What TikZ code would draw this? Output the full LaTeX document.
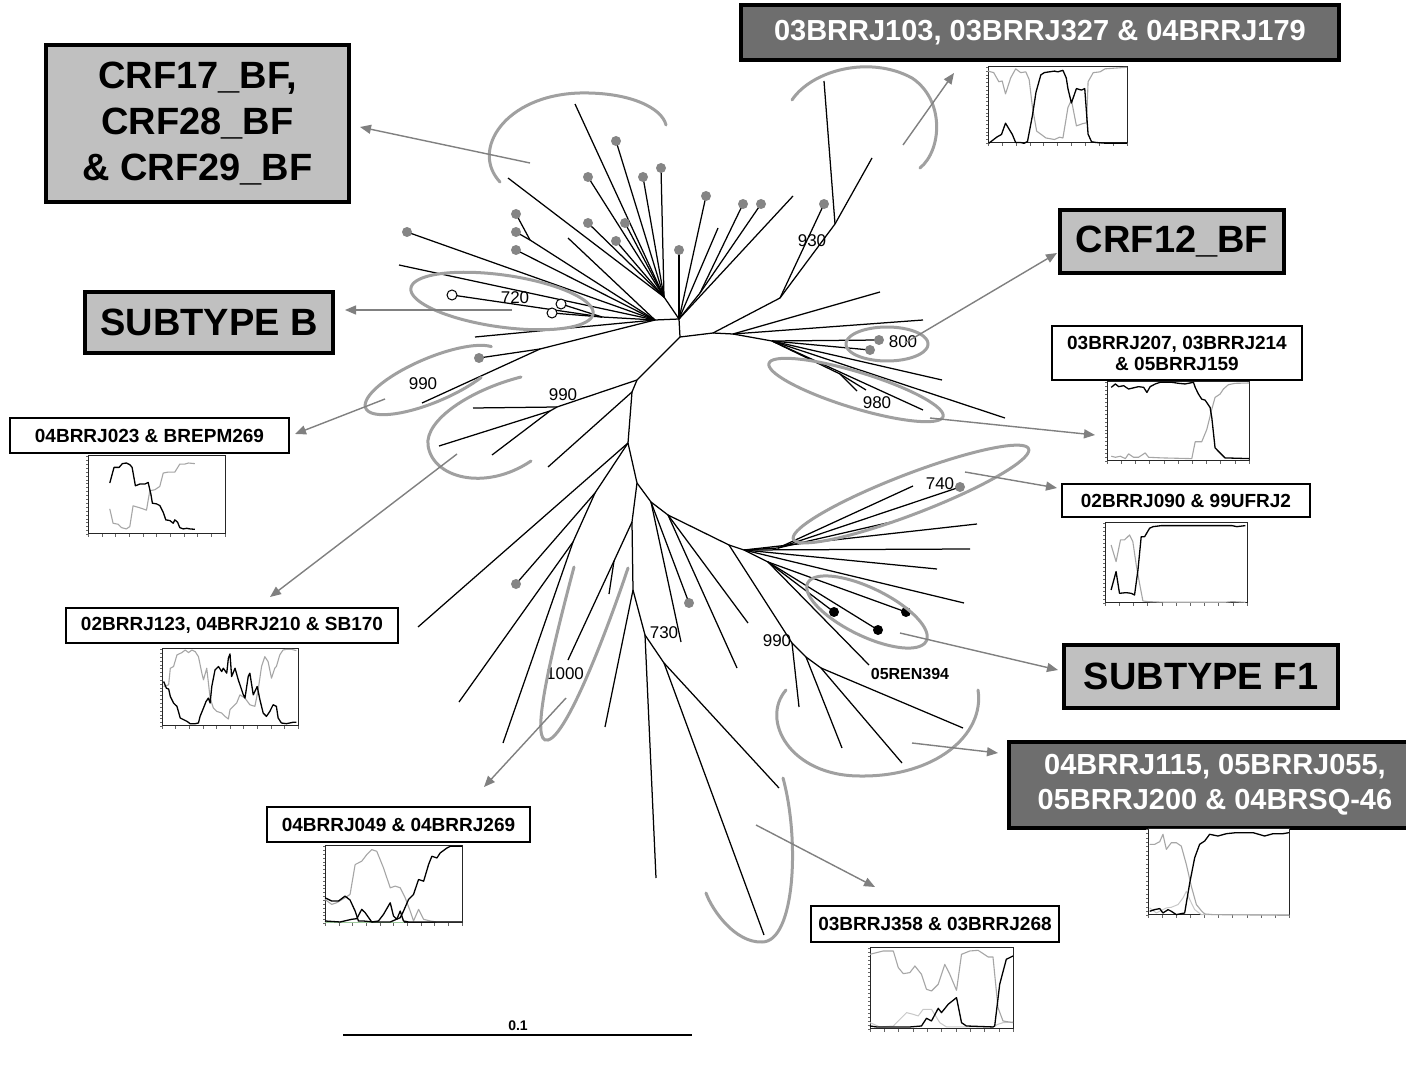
\documentclass[tikz,border=0pt]{standalone}
\usepackage{fontspec}
\setmainfont{Liberation Sans}
\usetikzlibrary{arrows.meta}

\definecolor{cladegray}{HTML}{A0A0A0}
\definecolor{arrowgray}{HTML}{808080}
\definecolor{dotgray}{HTML}{858585}
\definecolor{boxlight}{HTML}{C0C0C0}
\definecolor{boxdark}{HTML}{6E6E6E}
\definecolor{tracegray}{HTML}{A6A6A6}
\definecolor{tracelight}{HTML}{C8C8C8}
\definecolor{tracegreen}{HTML}{9CC89C}

\tikzset{
  branch/.style={line width=1.25pt, black},
  clade/.style={line width=3pt, cladegray, line cap=round},
  pointer/.style={line width=1.4pt, arrowgray, -{Triangle[length=11pt,width=9pt]}},
  graydot/.style={circle, fill=dotgray, inner sep=0pt, minimum size=10pt},
  opendot/.style={circle, draw=black, fill=white, line width=1pt, inner sep=0pt, minimum size=10pt},
  blackdot/.style={circle, fill=black, inner sep=0pt, minimum size=10pt},
  bigbox/.style={draw=black, line width=4pt, fill=boxlight, inner sep=0pt, align=center,
    font=\fontsize{38}{46}\selectfont\bfseries},
  darkbox/.style={draw=black, line width=4pt, fill=boxdark, text=white, inner sep=0pt, align=center,
    font=\fontsize{29}{35}\selectfont\bfseries},
  smallbox/.style={draw=black, line width=1.3pt, fill=white, inner sep=0pt, align=center,
    font=\fontsize{19}{21}\selectfont\bfseries},
  support/.style={inner sep=1pt, font=\fontsize{17}{17}\selectfont},
  plotframe/.style={draw=black!85, line width=1.3pt, fill=white, inner sep=0pt, anchor=north west},
  bcurve/.style={line width=1.3pt, black, line join=round},
  gcurve/.style={line width=1.1pt, tracegray, line join=round},
  lcurve/.style={line width=1.0pt, tracelight, line join=round},
  tick/.style={line width=0.4pt, black!60},
}

% branch from a parent point to a new named point
\newcommand{\tb}[3]{\coordinate (#2) at (#3); \draw[branch] (#1) -- (#2);}
\newcommand{\gd}[1]{\node[graydot] (#1d) at (#1) {};}
\newcommand{\od}[1]{\node[opendot] (#1d) at (#1) {};}
\newcommand{\bd}[1]{\node[blackdot] (#1d) at (#1) {};}
% tilted elliptic arc: cx, cy, a, b, tilt, start, end
\newcommand{\ellarc}[7]{\draw[clade] plot[variable=\t, domain=#6:#7, samples=90, smooth]
  ({#1+#3*cos(\t)*cos(#5)-#4*sin(\t)*sin(#5)},{#2+#3*cos(\t)*sin(#5)+#4*sin(\t)*cos(#5)});}
% axis ticks of a small trace panel
\newcommand{\panelticks}{%
  \foreach \k in {0,10,...,100} \draw[tick] (\k,0) -- ++(0pt,-2.5pt);
  \foreach \k in {0,5,...,100} \draw[tick] (0,\k) -- ++(-2.5pt,0pt);}

\begin{document}
\begin{tikzpicture}[x=1pt,y=-1pt]
\useasboundingbox (0,0) rectangle (1406,1067);
\fill[white] (0,0) rectangle (1406,1067);

% ---------------- tree ----------------
\coordinate (T0) at (680,337);
\tb{T0}{T1}{679,319}
\tb{T1}{T2}{664,297}
\tb{T1}{T3}{700,293}
\tb{T1}{T4}{655,320}
\tb{T4}{C720}{602,317}
\tb{T4}{S1}{530,240}
\tb{T4}{S2}{540,349}
\tb{T2}{a1}{575,104}
\tb{T2}{a2}{616,141}
\tb{T2}{a3}{588,177}
\tb{T2}{a4}{643,177}
\tb{T2}{a5}{661,168}
\tb{T2}{a6}{588,223}
\tb{T2}{a7}{625,223}
\tb{T2}{a8}{616,241}
\tb{T2}{a9}{508,178}
\tb{T1}{b1}{679,250}
\tb{T1}{b2}{706,196}
\tb{T1}{b3}{718,228}
\tb{T1}{b4}{793,196}
\tb{T3}{c1}{743,204}
\tb{T3}{c2}{761,204}
\tb{T4}{d1}{568,238}
\tb{T4}{d2}{407,232}
\tb{T4}{d3}{516,250}
\tb{T4}{d4}{399,265}
\tb{T4}{d5}{475,337}
\tb{S1}{e1}{516,214}
\tb{S1}{e2}{516,232}
\tb{C720}{f1}{452,295}
\tb{C720}{f2}{561,304}
\tb{C720}{f3}{552,313}
\tb{S2}{g1}{479,358}
\tb{S2}{g2}{422,403}

\tb{T0}{R1}{713,333}
\tb{R1}{R2}{780,298}
\tb{R2}{N930}{835,224}
\tb{N930}{h1}{824,81}
\tb{N930}{h2}{872,158}
\tb{R2}{h3}{824,204}
\tb{R1}{R3}{733,334}
\tb{R3}{i1}{923,320}
\tb{R3}{i2}{880,292}
\tb{R3}{R4}{772,341}
\tb{R4}{j1}{879,340}
\tb{R4}{j2}{870,350}
\tb{R4}{j3}{942,380}
\tb{R4}{j4}{1005,418}
\tb{R4}{j5}{923,410}
\tb{R4}{N980}{840,374}
\tb{N980}{k1}{866,390}
\tb{N980}{k2}{857,391}

\tb{T0}{N3}{637,380}
\tb{N3}{N99a}{557,407}
\tb{N99a}{m1}{473,408}
\tb{N99a}{N99b}{550,411}
\tb{N99b}{m2}{439,446}
\tb{N99b}{m3}{492,455}
\tb{N3}{N4}{632,392}
\tb{N4}{n1}{548,467}
\tb{N4}{N5}{628,443}
\tb{N5}{n2}{418,627}
\tb{N5}{L1}{595,493}
\tb{L1}{o1}{516,584}
\tb{L1}{L2}{573,542}
\tb{L2}{o2}{459,702}
\tb{L2}{o3}{503,743}
\tb{N5}{N6}{637,483}
\tb{N6}{M1}{632,522}
\tb{M1}{M1b}{614,561}
\tb{M1b}{p1}{568,660}
\tb{M1b}{p2}{609,594}
\tb{M1}{M2}{633,590}
\tb{M2}{p3}{605,727}
\tb{M2}{N730}{645,635}
\tb{N730}{q1}{656,878}
\tb{N730}{M3}{664,663}
\tb{M3}{q2}{779,788}
\tb{M3}{q3}{764,935}
\tb{N6}{R5}{651,502}
\tb{R5}{r1}{681,642}
\tb{R5}{r2}{689,603}
\tb{R5}{R6}{668,515}
\tb{R6}{r3}{748,623}
\tb{R6}{r4}{737,668}
\tb{R6}{R7}{729,545}
\tb{R7}{N99c}{792,643}
\tb{N99c}{s1}{799,707}
\tb{N99c}{Q1}{806,657}
\tb{Q1}{s2}{842,748}
\tb{Q1}{Q2}{821,668}
\tb{Q2}{s3}{902,763}
\tb{Q2}{s4}{963,728}
\tb{R7}{R8}{744,550}
\tb{R8}{N740}{778,548}
\tb{N740}{t1}{913,486}
\tb{N740}{t2}{960,487}
\tb{N740}{t3}{900,520}
\tb{R8}{u1}{977,524}
\tb{R8}{u2}{970,549}
\tb{R8}{u3}{937,569}
\tb{R8}{u4}{964,603}
\tb{R8}{F1n}{768,562}
\tb{F1n}{v1}{834,612}
\tb{F1n}{v2}{878,630}
\tb{F1n}{v3}{906,612}
\tb{F1n}{v4}{869,665}

% leaf markers
\gd{a2}\gd{a3}\gd{a4}\gd{a5}\gd{a6}\gd{a7}\gd{a8}
\gd{b1}\gd{b2}\gd{c1}\gd{c2}\gd{d2}\gd{d3}\gd{e1}\gd{e2}
\gd{g1}\gd{h3}\gd{j1}\gd{j2}\gd{t2}\gd{o1}\gd{r2}
\od{f1}\od{f2}\od{f3}
\bd{v1}\bd{v2}\bd{v3}

% support values and leaf label
\node[support] (s720) at (515,298) {720};
\node[support] (s930) at (812,241) {930};
\node[support] (s800) at (903,342) {800};
\node[support] (s980) at (877,403) {980};
\node[support] (s740) at (940,484) {740};
\node[support] (s990a) at (423,384) {990};
\node[support] (s990b) at (563,395) {990};
\node[support] (s1000) at (565,674) {1000};
\node[support] (s730) at (664,633) {730};
\node[support] (s990c) at (777,641) {990};
\node[inner sep=1pt, font=\fontsize{16}{16}\selectfont\bfseries] (ren) at (910,674) {05REN394};

% ---------------- clade outlines ----------------
\draw[clade] (500,182) .. controls (470,150) and (505,95) .. (580,93) .. controls (630,92) and (662,108) .. (666,125);
\draw[clade] (792,100) .. controls (812,70) and (870,55) .. (912,78) .. controls (945,100) and (942,150) .. (920,168);
\ellarc{502}{301}{92}{26}{8}{0}{360}
\ellarc{887}{344}{41}{17}{0}{0}{360}
\ellarc{856}{390}{91}{18}{17}{0}{360}
\ellarc{911}{494}{126}{20}{-21}{0}{360}
\ellarc{432}{380}{72}{22}{-23}{50}{340}
\draw[clade] (521,377) .. controls (470,390) and (425,420) .. (428,445) .. controls (432,478) and (485,492) .. (531,461);
\ellarc{867}{612}{66}{24}{26}{0}{360}
\draw[clade] (574,567) .. controls (548,665) and (530,745) .. (548,740) .. controls (568,735) and (610,622) .. (628,568);
\draw[clade] (786,690) .. controls (760,720) and (790,776) .. (860,776) .. controls (935,777) and (985,735) .. (978,690);
\draw[clade] (783,778) .. controls (800,840) and (795,942) .. (762,942) .. controls (735,943) and (712,910) .. (706,893);

% ---------------- label boxes ----------------
\node[bigbox, minimum width=303pt, minimum height=157pt] (crfbox) at (197.5,123.5) {CRF17\_BF,\\CRF28\_BF\\\& CRF29\_BF};
\node[bigbox, minimum width=248pt, minimum height=61pt] (subB) at (209,322.5) {SUBTYPE B};
\node[bigbox, minimum width=224pt, minimum height=63pt] (crf12) at (1172,241.5) {CRF12\_BF};
\node[bigbox, minimum width=274pt, minimum height=63pt] (subF) at (1201,676.5) {SUBTYPE F1};
\node[darkbox, minimum width=598pt, minimum height=55pt] (topbox) at (1040,32.5) {03BRRJ103, 03BRRJ327 \& 04BRRJ179};
\node[darkbox, minimum width=412pt, minimum height=86pt] (botbox) at (1215,785) {04BRRJ115, 05BRRJ055,\\05BRRJ200 \& 04BRSQ-46};

\node[smallbox, minimum width=279pt, minimum height=35pt] (lb1) at (149.5,435.5) {04BRRJ023 \& BREPM269};
\node[smallbox, minimum width=250pt, minimum height=54pt] (lb2) at (1177,353) {03BRRJ207, 03BRRJ214\\\& 05BRRJ159};
\node[smallbox, minimum width=248pt, minimum height=33pt] (lb3) at (1186,500.5) {02BRRJ090 \& 99UFRJ2};
\node[smallbox, minimum width=332pt, minimum height=35pt] (lb4) at (232,625.5) {02BRRJ123, 04BRRJ210 \& SB170};
\node[smallbox, minimum width=263pt, minimum height=35pt] (lb5) at (398.5,824.5) {04BRRJ049 \& 04BRRJ269};
\node[smallbox, minimum width=248pt, minimum height=36pt] (lb6) at (935,924) {03BRRJ358 \& 03BRRJ268};

% ---------------- trace panels ----------------
\node[plotframe, minimum width=139pt, minimum height=76pt] (pl1) at (988,66) {};
\begin{scope}[shift={(pl1.south west)}, x=1.39pt, y=0.76pt]
  \panelticks
  \draw[gcurve] plot coordinates {(0,95) (4.1,93) (7.8,81) (10.2,82) (12.6,65) (16.3,86) (19.9,98) (23.5,93) (27.2,94) (29.6,84) (32,47) (35,16) (38,12) (41.7,7) (47.8,5) (51.5,8) (53.9,7) (55.8,28) (57.5,47) (60,57) (63.6,23) (68.4,26) (70.9,27) (72,81) (75.7,93) (80.6,94) (84.2,98) (100,100)};
  \draw[bcurve] plot coordinates {(0.5,0) (6.5,8.4) (9.7,11.6) (12.6,26.5) (17.5,11.6) (19.9,1) (23.5,1) (26,0) (28.4,2.3) (32,37) (34.5,67) (38,90) (40.5,93) (44,94) (47.8,95) (50.2,94) (53.9,96) (56.3,86) (57.5,72) (60,53) (63.6,72) (67.2,70) (69.6,72) (72,12) (74.5,2) (78,1) (85.4,0) (100,0)};
\end{scope}

\node[plotframe, minimum width=137pt, minimum height=78pt] (pl2) at (88,455) {};
\begin{scope}[shift={(pl2.south west)}, x=1.37pt, y=0.78pt]
  \panelticks
  \draw[gcurve] plot coordinates {(15.9,32.6) (18.3,14.2) (22,12.9) (24.4,8.6) (28,6.9) (30.5,9.9) (32.9,36.5) (37.8,34) (42.7,31) (45.1,55.8) (48.8,57.1) (52.4,61.4) (54.9,78.5) (58.5,79.8) (63.4,79.8) (67,90) (70.7,90) (73.2,91.4) (78,90.6)};
  \draw[bcurve] plot coordinates {(15.9,65.7) (19,85.8) (22.7,85.8) (25.1,90.6) (28,91.4) (30.5,89.3) (32.2,85.8) (34.6,62.2) (37.8,64.4) (41.5,64.4) (43.9,66.5) (45.9,51.5) (47,39.9) (50,39) (52.4,36.9) (54.9,28.3) (56.8,18.5) (59.8,17.6) (62.2,14.2) (63.4,18.5) (65.4,15.5) (67,8.6) (69.5,6.9) (72,7.7) (74.4,6.9) (78,6.4)};
\end{scope}

\node[plotframe, minimum width=136pt, minimum height=77pt] (pl3) at (162,648) {};
\begin{scope}[shift={(pl3.south west)}, x=1.36pt, y=0.77pt]
  \panelticks
  \draw[gcurve] plot coordinates {(1.2,51.7) (4.9,53.9) (6.1,75.4) (8.5,77.6) (11,92.7) (14.6,95.7) (17.1,99.1) (19.5,95.7) (22,99.1) (24.4,97) (26.8,90.5) (29.3,69) (30.5,60.3) (32.9,75.4) (35.4,36.6) (37.8,23.7) (40.2,19.4) (43.9,17.2) (46.3,12.9) (48.8,9.5) (50,21.6) (52.4,25.9) (54.9,30.2) (57.3,40.9) (61,36.6) (64.6,28) (68.3,25.9) (70.7,47.4) (73.2,77.6) (75.6,90.5) (78,84.1) (80.5,62.5) (82.9,75.4) (84.1,77.6) (86.6,92.7) (89,99.1) (91.5,100) (95.1,100) (98.8,98.3)};
  \draw[bcurve] plot coordinates {(1.2,58.2) (3.2,49.6) (4.9,48.3) (6.1,38.8) (8.5,30.2) (11,25.9) (13.4,10.8) (15.9,8.6) (18.3,6.5) (20.7,3.4) (24.4,3.4) (26.8,4.3) (28,12.9) (30.5,23.7) (32.4,32.3) (34.1,36.6) (35.4,30.2) (36.6,51.7) (39,73.3) (41.5,77.6) (43.9,71.1) (45.1,75.4) (47.6,69) (48.8,88.4) (50,94) (51.2,64.7) (53.7,75.4) (56.1,60.3) (59.8,40.9) (61,36.6) (63.4,64.7) (64.6,69) (67.1,40.9) (68.3,45.3) (70,51.7) (72,34.5) (74.4,17.2) (76.8,12.9) (79.3,19.4) (81.7,28) (84.1,25.9) (85.4,10.8) (87.8,4.3) (91.5,3.4) (96.3,5.2) (98.8,5.2)};
\end{scope}

\node[plotframe, minimum width=137pt, minimum height=77pt] (pl4) at (325,845) {};
\begin{scope}[shift={(pl4.south west)}, x=1.37pt, y=0.77pt]
  \panelticks
  \draw[line width=1pt, tracegreen] (0,1.5) -- (58,1.5);
  \draw[gcurve] plot coordinates {(0,31) (4.9,24.6) (8.5,26.7) (14.6,33.2) (18.3,37.5) (22,76.3) (26.8,80.6) (30.5,89.2) (34.1,95.7) (37.8,93.5) (42.7,72) (47.6,46.1) (51.2,48.3) (54.9,46.1) (58.5,33.2) (62.2,15.9) (64.6,3) (68.3,18.1) (72,5.2) (76.8,3) (81.7,1.7) (100,1.7)};
  \draw[bcurve] plot coordinates {(0,3) (11,1.7) (19.5,5.2) (23.2,6) (26.8,18.1) (29.3,13.8) (34.1,1.7) (39,3) (42.7,11.6) (47.6,26.7) (50,9.5) (52.4,5.2) (54.9,15.9) (57.3,3) (61,1.7) (100,1.7)};
  \draw[bcurve] plot coordinates {(0,33.2) (4.9,28.9) (9.8,28.9) (14.6,35.3) (18.3,30.2) (22,15.9) (24.4,3) (28,3) (35.4,1.7) (42.7,1.7) (47.6,1.7) (54.9,7.3) (57.3,15.9) (61,31) (64.6,37.5) (68.3,56.9) (72,54.7) (75.6,76.3) (78,87.1) (81.7,84.9) (84.1,91.4) (89,97.8) (91.5,100) (100,100)};
\end{scope}

\node[plotframe, minimum width=142pt, minimum height=79pt] (pl5) at (1107,381) {};
\begin{scope}[shift={(pl5.south west)}, x=1.42pt, y=0.79pt]
  \panelticks
  \draw[gcurve] plot coordinates {(3,6.4) (5.9,5.1) (9.4,6.4) (12.9,3.4) (15.2,9.4) (18.7,5.1) (22.2,5.1) (26.9,10.6) (29.3,5.1) (38.6,4.3) (59.7,3.4) (62.1,24.7) (66.7,24.7) (70.3,40.4) (73.8,66) (76.1,80.9) (79.6,85.1) (82,91.5) (85.5,97) (90.2,98.7) (100,99.1)};
  \draw[bcurve] plot coordinates {(3,93.6) (5.9,97.9) (8.2,94.5) (11.7,95.7) (15.2,91.5) (22.2,94.5) (25.8,93.6) (28.1,87.2) (30.4,94.5) (34,97.9) (37.5,100) (45.7,100) (50.4,98.7) (55,97.9) (60.9,100) (62.1,93.6) (64.4,85.1) (66.7,78.7) (69.1,77.4) (72.6,68.1) (73.8,55.3) (76.1,17) (79.6,10.6) (83.1,4.3) (100,3.4)};
\end{scope}

\node[plotframe, minimum width=142pt, minimum height=80pt] (pl6) at (1105,522) {};
\begin{scope}[shift={(pl6.south west)}, x=1.42pt, y=0.80pt]
  \panelticks
  \draw[gcurve] plot coordinates {(4.3,72.9) (7.8,52.1) (10.9,79.2) (13.7,79.2) (17.3,85.4) (19.6,77.1) (22,47.9) (24.3,25) (26.7,2.9) (30.3,2.1) (42.1,1.3) (84.6,1.3) (89.4,2.1) (98.8,1.3)};
  \draw[bcurve] plot coordinates {(4.3,16.7) (7.8,39.6) (10.2,12.5) (14.9,13.3) (18.4,12.5) (20.8,10.4) (23.2,41.7) (25.5,83.3) (27.9,83.3) (31.4,93.8) (33.8,95.8) (39.7,97.1) (89.4,97.1) (92.9,95.8) (98.8,97.1)};
\end{scope}

\node[plotframe, minimum width=141pt, minimum height=86pt] (pl7) at (1148,828) {};
\begin{scope}[shift={(pl7.south west)}, x=1.41pt, y=0.86pt]
  \panelticks
  \draw[lcurve] plot coordinates {(1.2,8.6) (5.9,2.7) (10.6,6.6) (13,8.6) (16.5,9.3) (21.3,12.5) (24.8,20.2) (27.2,28) (29.6,18.3) (33.1,6.6) (37.8,0.8) (100,0.8)};
  \draw[gcurve] plot coordinates {(1.2,82.5) (4.7,82.5) (8.3,85.6) (10.6,94.2) (13,76.7) (16.5,84.4) (20.1,84.4) (23.6,80.5) (27.2,59.1) (30.7,33.9) (34.3,12.5) (37.8,5.4) (40.2,1.6) (46.1,0.8) (100,0)};
  \draw[bcurve] plot coordinates {(1.2,4.7) (4.7,6.6) (8.3,7.8) (10.6,2.7) (14.2,6.6) (16.5,4.7) (20.1,0.8) (26,2.7) (29.6,37.7) (33.1,66.9) (36.6,82.5) (40.2,86.4) (43.7,94.2) (49.6,92.2) (55.6,94.9) (62.6,96.1) (74.5,96.1) (82.7,92.2) (88.7,94.9) (95.7,94.9) (100,96.1)};
\end{scope}

\node[plotframe, minimum width=143pt, minimum height=81pt] (pl8) at (870,947) {};
\begin{scope}[shift={(pl8.south west)}, x=1.43pt, y=0.81pt]
  \panelticks
  \draw[lcurve] plot coordinates {(0,8.2) (7,2.9) (16.3,4.1) (20.9,12.3) (25.6,20.6) (30.2,18.5) (33.7,16.5) (37.2,24.7) (43,24.7) (48.8,8.2) (53.5,2.9) (86,2.9) (89.5,6.2) (93,8.2) (100,9.1)};
  \draw[gcurve] plot coordinates {(0,92.6) (4.7,94.7) (9.3,96.7) (16.3,96.7) (19.8,76.1) (23.3,68.7) (27.9,70) (31.4,78.2) (36,67.9) (39.5,49.4) (43,47.3) (47.7,55.6) (52.3,80.2) (55.8,67.9) (60.5,48.1) (64,92.6) (69.8,96.7) (75.6,97.5) (82.6,89.3) (86,89.3) (89.5,26.7) (93,10.3) (100,8.2)};
  \draw[bcurve] plot coordinates {(0,4.1) (4.7,2.9) (16.3,2.9) (27.9,2.9) (36,4.1) (39.5,13.6) (43,10.3) (47.7,25.9) (50,20.6) (54.7,30.9) (60.5,39.1) (64,8.2) (67.4,4.1) (86,2.9) (87.2,4.1) (90.7,55.6) (95.3,86.4) (100,90.5)};
\end{scope}

% ---------------- pointers from clades to labels ----------------
\coordinate (a1s) at (530,163);  \coordinate (a1e) at (360,127);
\coordinate (a2s) at (903,145);  \coordinate (a2e) at (954,73);
\coordinate (a3s) at (512,310);  \coordinate (a3e) at (345,310);
\coordinate (a4s) at (905,343);  \coordinate (a4e) at (1057,253);
\coordinate (a5s) at (930,418);  \coordinate (a5e) at (1095,435);
\coordinate (a6s) at (965,472);  \coordinate (a6e) at (1057,488);
\coordinate (a7s) at (385,399);  \coordinate (a7e) at (295,434);
\coordinate (a8s) at (457,454);  \coordinate (a8e) at (270,597);
\coordinate (a9s) at (900,633);  \coordinate (a9e) at (1058,670);
\coordinate (a10s) at (912,743); \coordinate (a10e) at (998,753);
\coordinate (a11s) at (566,698); \coordinate (a11e) at (484,787);
\coordinate (a12s) at (756,825); \coordinate (a12e) at (875,887);
\foreach \n in {1,...,12} \draw[pointer] (a\n s) -- (a\n e);

% ---------------- scale bar ----------------
\coordinate (sb1) at (343,1035);
\coordinate (sb2) at (692,1035);
\draw[line width=1.3pt] (sb1) -- (sb2);
\node[inner sep=1pt, font=\fontsize{14}{14}\selectfont\bfseries] (sblab) at (518,1026) {0.1};
\end{tikzpicture}
\end{document}
